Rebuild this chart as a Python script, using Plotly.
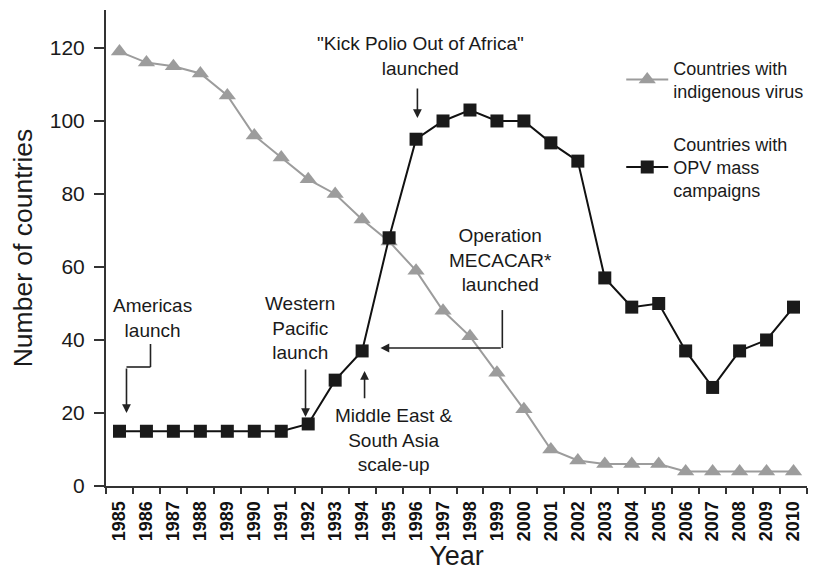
import plotly.graph_objects as go

years = [str(y) for y in range(1985, 2011)]
indigenous = [119, 116, 115, 113, 107, 96, 90, 84, 80, 73, 67, 59, 48, 41, 31,
              21, 10, 7, 6, 6, 6, 4, 4, 4, 4, 4]
opv = [15, 15, 15, 15, 15, 15, 15, 17, 29, 37, 68, 95, 100, 103, 100, 100,
       94, 89, 57, 49, 50, 37, 27, 37, 40, 49]

FONT = "Liberation Sans, Arial, sans-serif"
TXT = "#1a1a1a"
GRAY = "#9c9c9c"

fig = go.Figure()

fig.add_trace(go.Scatter(
    x=years, y=indigenous, mode="lines+markers",
    name="Countries with<br>indigenous virus", legendgroup="a",
    line=dict(color=GRAY, width=2),
    marker=dict(symbol="triangle-up", size=15, color=GRAY)
))
fig.add_trace(go.Scatter(
    x=years, y=opv, mode="lines+markers",
    name="Countries with<br>OPV mass<br>campaigns", legendgroup="b",
    line=dict(color="#111111", width=2),
    marker=dict(symbol="square", size=13, color="#1a1a1a")
))

# annotation texts (x in category index units, y in data units)
notes = [
    ("Americas<br>launch", 1.22, 46.0),
    ("Western<br>Pacific<br>launch", 6.71, 43.3),
    ("Middle East &<br>South Asia<br>scale-up", 10.17, 12.6),
    ("Operation<br>MECACAR*<br>launched", 14.13, 61.9),
    ("\"Kick Polio Out of Africa\"<br>launched", 11.16, 117.7),
]
for text, xx, yy in notes:
    fig.add_annotation(x=xx, y=yy, text=text, showarrow=False,
                       font=dict(family=FONT, size=19, color=TXT),
                       xanchor="center", yanchor="middle")

# arrows: (tip x, tip y, tail x, tail y)
arrows = [
    (0.26, 20.0, 0.26, 32.6),
    (6.9, 18.9, 6.9, 32.3),
    (9.09, 31.5, 9.09, 23.6),
    (9.68, 37.8, 14.2, 37.8),
    (11.05, 100.8, 11.05, 109.3),
]
for x0, y0, x1, y1 in arrows:
    fig.add_annotation(x=x0, y=y0, ax=x1, ay=y1, xref="x", yref="y",
                       axref="x", ayref="y", text="", showarrow=True,
                       arrowhead=2, arrowsize=1.1, arrowwidth=1.6,
                       arrowcolor="#222222")

# elbow segments
segs = [
    (1.15, 38.9, 1.15, 32.6),
    (1.15, 32.6, 0.26, 32.6),
    (14.2, 48.2, 14.2, 37.8),
]
for x0, y0, x1, y1 in segs:
    fig.add_shape(type="line", x0=x0, y0=y0, x1=x1, y1=y1, xref="x", yref="y",
                  line=dict(color="#222222", width=1.6))

# page body adds an 8px margin, so the figure is 8px smaller and shifted
fig.update_layout(
    width=809, height=563,
    margin=dict(l=98, r=10, t=2, b=85),
    paper_bgcolor="white", plot_bgcolor="white",
    font=dict(family=FONT, color=TXT),
    showlegend=True,
    legend=dict(x=0.735, y=0.917, xanchor="left", yanchor="top",
                font=dict(family=FONT, size=18, color=TXT),
                itemwidth=42, tracegroupgap=26, bgcolor="rgba(0,0,0,0)"),
)

fig.update_xaxes(
    type="category", range=[-0.5, 25.5], tickson="boundaries",
    showline=True, linecolor="#333333", linewidth=2,
    ticks="outside", ticklen=6, tickwidth=2, tickcolor="#333333",
    tickangle=-90,
    tickfont=dict(family=FONT, size=18, color="#111111", weight="bold"),
    ticklabelstandoff=6,
    showgrid=False, zeroline=False,
    title=dict(text="Year", font=dict(family=FONT, size=27, color=TXT), standoff=7),
)
fig.update_yaxes(
    range=[0, 130.4], tickvals=[0, 20, 40, 60, 80, 100, 120],
    showline=True, linecolor="#333333", linewidth=2,
    ticks="outside", ticklen=10, tickwidth=2, tickcolor="#333333",
    tickfont=dict(family=FONT, size=21, color=TXT),
    ticklabelstandoff=5,
    showgrid=False, zeroline=False,
    title=dict(text="Number of countries", font=dict(family=FONT, size=26.5, color=TXT), standoff=15),
)

fig.write_html("out.html")
